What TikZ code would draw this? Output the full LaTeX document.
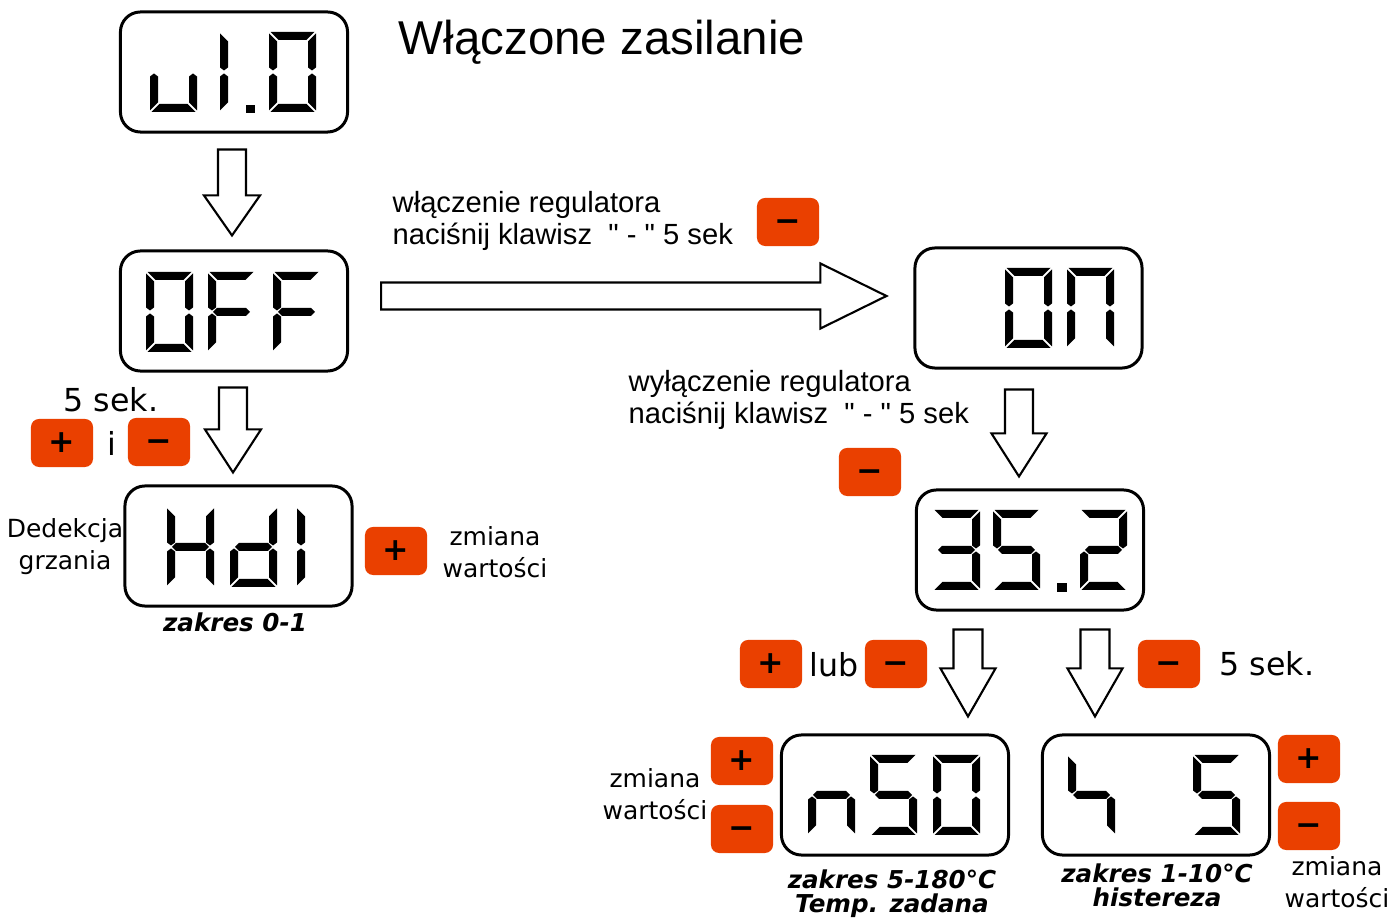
\documentclass[tikz,border=0pt]{standalone}
\usepackage{fontspec}
\setmainfont{DejaVu Sans}
\newfontfamily\arialfont{Liberation Sans}
\usetikzlibrary{calc}
\definecolor{btnorange}{RGB}{234,64,0}

\tikzset{
  display/.style={draw, line width=0.85pt, rounded corners=5.7pt, minimum width=2.27cm, minimum height=1.2cm},
  btn/.style={fill=btnorange, rounded corners=2.3pt, minimum width=0.62cm, minimum height=0.48cm, inner sep=0pt,
    text height=5.6pt, text depth=0pt, font=\fontsize{9}{9}\selectfont\bfseries},
  blockline/.style={draw, line width=0.6pt, fill=white, line join=miter},
  titletext/.style={font=\arialfont\fontsize{13.5}{16}\selectfont},
  regtext/.style={font=\arialfont\fontsize{8.3}{9.1}\selectfont, align=left, inner sep=0pt},
  notetext/.style={font=\fontsize{7.1}{9.1}\selectfont, align=center, inner sep=0pt},
  bigtext/.style={font=\fontsize{9}{11}\selectfont, inner sep=0pt},
  rangetext/.style={font=\fontsize{7}{7.1}\selectfont\bfseries\itshape, align=center, inner sep=0pt},
  seg a/.pic={\fill (1.5,0) -- (45.5,0) -- (37.5,8) -- (9.5,8) -- cycle;},
  seg d/.pic={\fill (1.5,80) -- (45.5,80) -- (37.5,72) -- (9.5,72) -- cycle;},
  seg f/.pic={\fill (0,1.5) -- (8,9.5) -- (8,35.5) -- (4,38.5) -- (0,35.5) -- cycle;},
  seg e/.pic={\fill (0,78.5) -- (8,70.5) -- (8,44.5) -- (4,41.5) -- (0,44.5) -- cycle;},
  seg b/.pic={\fill (47,1.5) -- (39,9.5) -- (39,35.5) -- (43,38.5) -- (47,35.5) -- cycle;},
  seg c/.pic={\fill (47,78.5) -- (39,70.5) -- (39,44.5) -- (43,41.5) -- (47,44.5) -- cycle;},
  seg g/.pic={\fill (5,40) -- (9,36) -- (38,36) -- (42,40) -- (38,44) -- (9,44) -- cycle;},
  digit/.pic={\foreach \s in {#1} {\pic {seg \s};}}
}

% hollow block arrow: from, to, half shaft, half head, head length
\newcommand{\blockarrow}[5]{%
  \coordinate (ba-h) at ($(#2)!#5!(#1)$);
  \draw[blockline] ($(#1)!#3!90:(#2)$) -- ($(ba-h)!#3!90:(#2)$) -- ($(ba-h)!#4!90:(#2)$) -- (#2)
    -- ($(ba-h)!#4!-90:(#2)$) -- ($(ba-h)!#3!-90:(#2)$) -- ($(#1)!#3!-90:(#2)$) -- cycle;}

\begin{document}
\begin{tikzpicture}[x=0.01cm,y=-0.01cm]
\useasboundingbox (0,0) rectangle (1396,919);

% displays
\node[display] (v10) at (234,72) {};
\node[display] (off) at (234,311) {};
\node[display] (hdl) at (238.5,546) {};
\node[display] (on) at (1028.5,308) {};
\node[display] (t352) at (1030,550) {};
\node[display] (n50) at (895,795) {};
\node[display] (h45) at (1156,795) {};

% digits
\pic at (150,32) {digit={c,d,e}};
\pic at (220,32) {digit={e,f}};
\fill (246,105) rectangle ++(9,8);
\pic at (269,32) {digit={a,b,c,d,e,f}};
\pic at (146,272) {digit={a,b,c,d,e,f}};
\pic at (208,272) {digit={a,e,f,g}};
\pic at (273,272) {digit={a,e,f,g}};
\pic at (167,507) {digit={b,c,e,f,g}};
\pic at (230,507) {digit={b,c,d,e,g}};
\pic at (297,507) {digit={e,f}};
\pic at (1005,268) {digit={a,b,c,d,e,f}};
\pic at (1067,268) {digit={a,b,c,e,f}};
\pic at (933,510) {digit={a,b,c,d,g}};
\pic at (993,510) {digit={a,c,d,f,g}};
\fill (1057,583) rectangle ++(10,9);
\pic at (1080,510) {digit={a,b,d,e,g}};
\pic at (808,755) {digit={c,e,g}};
\pic at (870,755) {digit={a,c,d,f,g}};
\pic at (933,755) {digit={a,b,c,d,e,f}};
\pic at (1068,755) {digit={c,f,g}};
\pic at (1193,755) {digit={a,c,d,f,g}};

% arrows
\coordinate (a1s) at ($(v10.south)+(-2,16)$);
\coordinate (a1t) at ($(off.north)+(-2,-14)$);
\coordinate (a2s) at ($(off.south)+(-1,15)$);
\coordinate (a2t) at ($(hdl.north)+(-5.5,-12)$);
\coordinate (a3s) at ($(off.east)+(32,-15)$);
\coordinate (a3t) at ($(on.west)+(-27,-12)$);
\coordinate (a4s) at ($(on.south)+(-9.5,20)$);
\coordinate (a4t) at ($(t352.north)+(-11,-12)$);
\coordinate (a5s) at ($(t352.south)+(-62,18)$);
\coordinate (a5t) at ($(n50.north)+(73,-17)$);
\coordinate (a6s) at ($(t352.south)+(65,18)$);
\coordinate (a6t) at ($(h45.north)+(-61,-17)$);
\blockarrow{a1s}{a1t}{0.14cm}{0.28cm}{0.40cm}
\blockarrow{a2s}{a2t}{0.14cm}{0.28cm}{0.43cm}
\blockarrow{a3s}{a3t}{0.135cm}{0.325cm}{0.66cm}
\blockarrow{a4s}{a4t}{0.14cm}{0.275cm}{0.43cm}
\blockarrow{a5s}{a5t}{0.145cm}{0.275cm}{0.48cm}
\blockarrow{a6s}{a6t}{0.145cm}{0.275cm}{0.48cm}

% buttons
\node[btn] (onkey) at (788,222) {−};
\node[btn] (hdlplus) at (62,443) {+};
\node[btn] (hdlminus) at (159,442) {−};
\node[btn] (hdlset) at (396,551) {+};
\node[btn] (offkey) at (870,472) {−};
\node[btn] (tplus) at (771,664) {+};
\node[btn] (tminus) at (896,664) {−};
\node[btn] (hminus) at (1169,664) {−};
\node[btn] (nplus) at (742,761) {+};
\node[btn] (nminus) at (742,829) {−};
\node[btn] (hplus) at (1309,759) {+};
\node[btn] (hset) at (1309,826) {−};

% texts
\node[titletext, anchor=base] (ttl) at (602,55) {Włączone zasilanie};
\node[regtext, anchor=base west] (onmsg) at (392,245) {włączenie regulatora\\naciśnij klawisz~~" - " 5 sek};
\node[regtext, anchor=base west] (offmsg) at (628,424) {wyłączenie regulatora\\naciśnij klawisz~~" - " 5 sek};
\node[bigtext, anchor=base] (sek1) at (111,412) {5 sek.};
\node[bigtext, anchor=base] (and) at (112,456) {i};
\node[notetext, anchor=base] (ded) at (65,570) {Dedekcja\\grzania};
\node[notetext, anchor=base] (chg1) at (495,578) {zmiana\\wartości};
\node[rangetext, anchor=base] (r1) at (235,632) {zakres 0-1};
\node[bigtext, anchor=base] (lub) at (834,677) {lub};
\node[bigtext, anchor=base] (sek2) at (1267,676) {5 sek.};
\node[notetext, anchor=base] (chg2) at (655,820) {zmiana\\wartości};
\node[notetext, anchor=base] (chg3) at (1337,908) {zmiana\\wartości};
\node[rangetext, anchor=base] (r2) at (892,913) {zakres 5-180°C\\Temp. zadana};
\node[rangetext, anchor=base] (r3) at (1157,907) {zakres 1-10°C\\histereza};
\end{tikzpicture}
\end{document}
